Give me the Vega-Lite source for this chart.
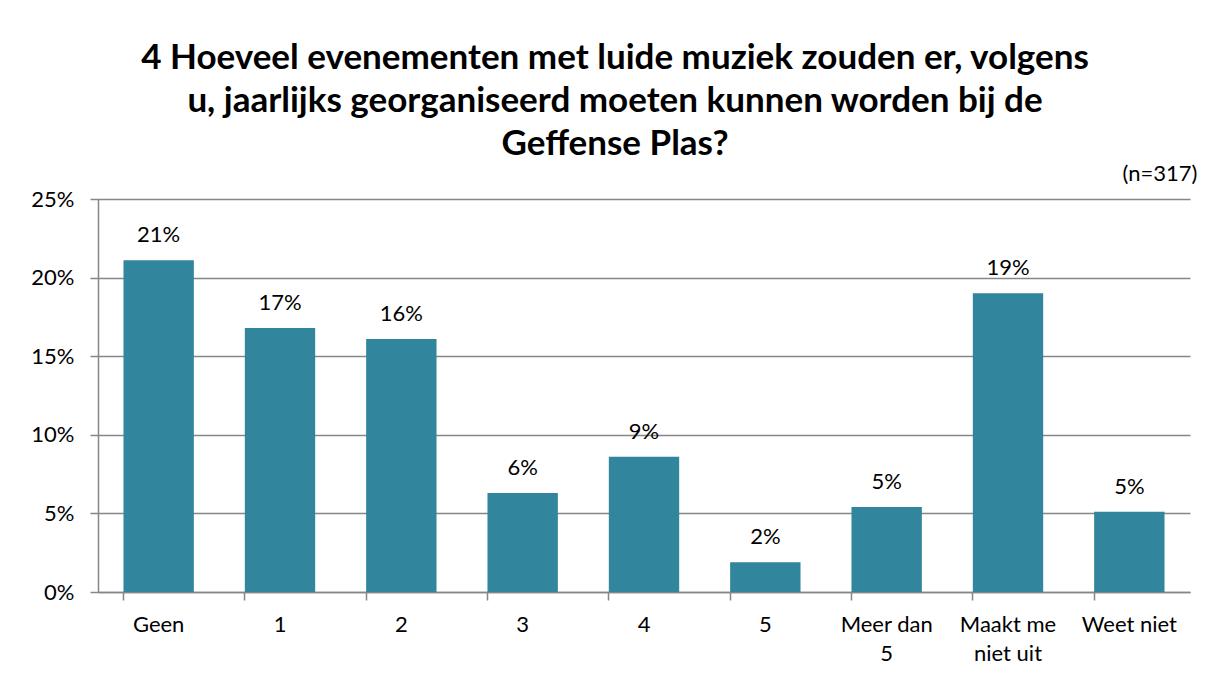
{
  "$schema": "https://vega.github.io/schema/vega-lite/v6.json",
  "width": 1092,
  "height": 393,
  "autosize": {"type": "none"},
  "padding": {"left": 98, "top": 199, "right": 25, "bottom": 92},
  "background": "white",
  "title": {
    "text": ["4 Hoeveel evenementen met luide muziek zouden er, volgens", "u, jaarlijks georganiseerd moeten kunnen worden bij de", "Geffense Plas?"],
    "font": "Lato",
    "fontSize": 35,
    "fontWeight": "bold",
    "color": "black",
    "lineHeight": 43,
    "anchor": "middle",
    "frame": "group",
    "dx": -29,
    "offset": 1
  },
  "data": {
    "values": [
      {"cat": "Geen", "pct": 0.211},
      {"cat": "1", "pct": 0.168},
      {"cat": "2", "pct": 0.161},
      {"cat": "3", "pct": 0.063},
      {"cat": "4", "pct": 0.086},
      {"cat": "5", "pct": 0.019},
      {"cat": "Meer dan 5", "pct": 0.054},
      {"cat": "Maakt me niet uit", "pct": 0.19},
      {"cat": "Weet niet", "pct": 0.051}
    ]
  },
  "layer": [
    {
      "mark": {"type": "bar", "color": "#31859C"},
      "encoding": {
        "x": {
          "field": "cat", "type": "nominal", "sort": null,
          "scale": {"paddingInner": 0.42, "paddingOuter": 0.21},
          "axis": {
            "title": null,
            "labelAngle": 0,
            "labelFont": "Lato",
            "labelFontSize": 22,
            "labelColor": "black",
            "labelPadding": 14,
            "labelLineHeight": 29,
            "labelExpr": "datum.value == 'Meer dan 5' ? ['Meer dan', '5'] : datum.value == 'Maakt me niet uit' ? ['Maakt me', 'niet uit'] : datum.label",
            "bandPosition": 0,
            "domainColor": "#868686",
            "domainWidth": 1.5,
            "tickColor": "#868686",
            "tickWidth": 1.5,
            "tickSize": 8,
            "grid": false
          }
        },
        "y": {
          "field": "pct", "type": "quantitative",
          "scale": {"domain": [0, 0.25], "nice": false},
          "axis": {
            "title": null,
            "values": [0, 0.05, 0.1, 0.15, 0.2, 0.25],
            "format": ".0%",
            "labelFont": "Lato",
            "labelFontSize": 22,
            "labelColor": "black",
            "labelPadding": 16,
            "domainColor": "#868686",
            "domainWidth": 1.5,
            "tickColor": "#868686",
            "tickWidth": 1.5,
            "tickSize": 8,
            "gridColor": "#868686",
            "gridWidth": 1.5
          }
        }
      }
    },
    {
      "mark": {"type": "text", "baseline": "bottom", "dy": -13, "font": "Lato", "fontSize": 22, "color": "black"},
      "encoding": {
        "x": {"field": "cat", "type": "nominal", "sort": null},
        "y": {"field": "pct", "type": "quantitative"},
        "text": {"field": "pct", "type": "quantitative", "format": ".0%"}
      }
    },
    {
      "data": {"values": [{"note": "(n=317)"}]},
      "mark": {"type": "text", "align": "right", "baseline": "bottom", "dx": 68, "dy": -13, "font": "Lato", "fontSize": 22, "color": "black"},
      "encoding": {
        "x": {"datum": "Weet niet", "type": "nominal"},
        "y": {"datum": 0.25, "type": "quantitative"},
        "text": {"field": "note", "type": "nominal"}
      }
    }
  ],
  "config": {"view": {"stroke": null}}
}
